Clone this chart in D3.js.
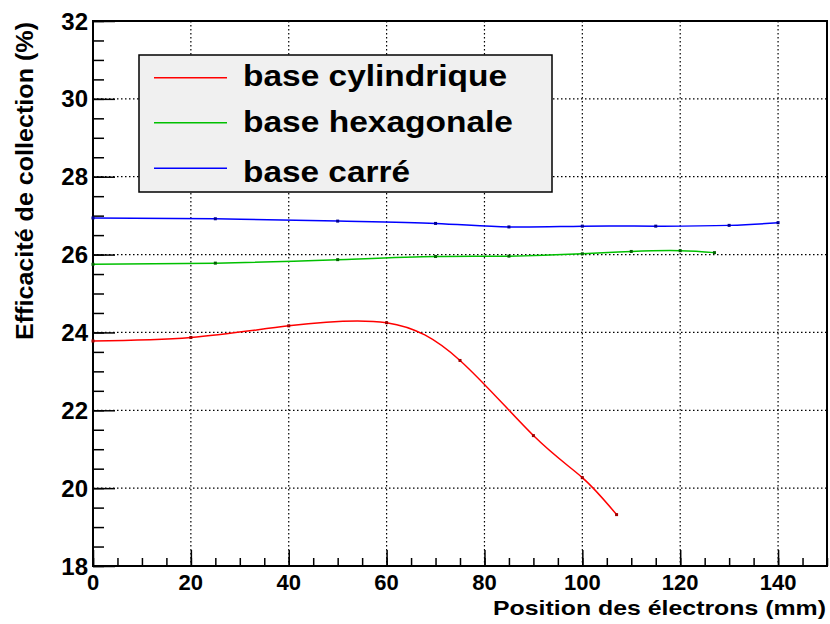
<!DOCTYPE html>
<html><head><meta charset="utf-8">
<script src="https://cdn.jsdelivr.net/npm/d3@7"></script>
<style>body{margin:0;background:#fff}svg{display:block}text{font-family:"Liberation Sans",Arial,sans-serif;font-weight:bold}</style>
</head><body>
<svg id="c" width="830" height="624"></svg>
<script>
// Data
const cylX = [0, 20, 40, 60, 75, 90, 100, 107];
const cylY = [23.78, 23.87, 24.17, 24.25, 23.28, 21.35, 20.27, 19.32];
const hexX = [0, 25, 50, 70, 85, 100, 110, 120, 127];
const hexY = [25.75, 25.78, 25.87, 25.95, 25.96, 26.02, 26.08, 26.10, 26.05];
const carX = [0, 25, 50, 70, 85, 100, 115, 130, 140];
const carY = [26.94, 26.92, 26.86, 26.80, 26.71, 26.73, 26.73, 26.75, 26.82];
const seriesNames = ["base cylindrique", "base hexagonale", "base carré"];
const xTicks = [0, 20, 40, 60, 80, 100, 120, 140];
const yTicks = [18, 20, 22, 24, 26, 28, 30, 32];
const xTitle = "Position des électrons (mm)";
const yTitle = "Efficacité de collection (%)";

const colors = ["#ff0000", "#00c000", "#0000ff"];
const markColors = ["#a00000", "#006000", "#000090"];

const svg = d3.select("#c");
const L = 93, R = 827, T = 21, B = 566;
const x = d3.scaleLinear().domain([0, 150]).range([L, R]);
const y = d3.scaleLinear().domain([18, 32]).range([B, T]);

// grid
const g = svg.append("g");
g.selectAll(".gx").data(xTicks.filter(d => d > 0)).enter().append("line")
  .attr("x1", d => x(d)).attr("x2", d => x(d)).attr("y1", T).attr("y2", B)
  .attr("stroke", "#000").attr("stroke-width", 1.2).attr("stroke-dasharray", "1.5,2.5");
g.selectAll(".gy").data(yTicks.filter(d => d > 18 && d < 32)).enter().append("line")
  .attr("y1", d => y(d)).attr("y2", d => y(d)).attr("x1", L).attr("x2", R)
  .attr("stroke", "#000").attr("stroke-width", 1.2).attr("stroke-dasharray", "1.5,2.5");

// axes
const xAxisMajor = d3.axisBottom(x).tickValues(xTicks).tickSize(-16).tickFormat("").tickSizeOuter(0);
const xAxisMinor = d3.axisBottom(x).tickValues(d3.range(0, 151, 5)).tickSize(-8).tickFormat("").tickSizeOuter(0);
const yAxisMajor = d3.axisLeft(y).tickValues(yTicks).tickSize(-22).tickFormat("").tickSizeOuter(0);
const yAxisMinor = d3.axisLeft(y).tickValues(d3.range(18, 32.01, 0.5)).tickSize(-11).tickFormat("").tickSizeOuter(0);
[xAxisMinor, xAxisMajor].forEach(a => {
  const ga = svg.append("g").attr("transform", `translate(0,${B})`).call(a);
  ga.select(".domain").remove();
  ga.selectAll("line").attr("stroke", "#000").attr("stroke-width", 1.5);
});
[yAxisMinor, yAxisMajor].forEach(a => {
  const ga = svg.append("g").attr("transform", `translate(${L},0)`).call(a);
  ga.select(".domain").remove();
  ga.selectAll("line").attr("stroke", "#000").attr("stroke-width", 1.5);
});

// tick labels
svg.selectAll(".xl").data(xTicks).enter().append("text")
  .attr("x", d => x(d)).attr("y", 590).attr("text-anchor", "middle")
  .attr("font-size", 22).text(d => d);
svg.selectAll(".yl").data(yTicks).enter().append("text")
  .attr("x", 88).attr("y", d => y(d) + 8.5).attr("text-anchor", "end")
  .attr("font-size", 24).text(d => d);

// frame
svg.append("rect").attr("x", L).attr("y", T).attr("width", R - L).attr("height", B - T)
  .attr("fill", "none").attr("stroke", "#000").attr("stroke-width", 2);

// titles
svg.append("text").attr("x", 826).attr("y", 615).attr("text-anchor", "end")
  .attr("font-size", 21).attr("textLength", 333).attr("lengthAdjust", "spacingAndGlyphs").text(xTitle);
svg.append("text").attr("transform", "translate(33,22) rotate(-90)").attr("text-anchor", "end")
  .attr("font-size", 23).attr("textLength", 318).attr("lengthAdjust", "spacingAndGlyphs").text(yTitle);

// series
const series = [[cylX, cylY], [hexX, hexY], [carX, carY]];
const line = d3.line().x(d => x(d[0])).y(d => y(d[1])).curve(d3.curveNatural);
series.forEach(([xs, ys], i) => {
  const pts = xs.map((v, j) => [v, ys[j]]);
  svg.append("path").datum(pts).attr("d", line).attr("fill", "none")
    .attr("stroke", colors[i]).attr("stroke-width", 1.5);
  svg.selectAll(".m" + i).data(pts).enter().append("rect")
    .attr("x", d => x(d[0]) - 1.5).attr("y", d => y(d[1]) - 1.5)
    .attr("width", 3).attr("height", 3).attr("fill", markColors[i]);
});

// legend
const lg = svg.append("g");
lg.append("rect").attr("x", 139).attr("y", 55).attr("width", 413).attr("height", 137)
  .attr("fill", "#f0f0f0").attr("stroke", "#000").attr("stroke-width", 1.5);
const legLineY = [77.7, 122.7, 168.3];
const legTextY = [86, 132, 182];
const legLen = [264, 270, 167];
seriesNames.forEach((n, i) => {
  lg.append("line").attr("x1", 154).attr("x2", 227).attr("y1", legLineY[i]).attr("y2", legLineY[i])
    .attr("stroke", colors[i]).attr("stroke-width", 1.5);
  lg.append("text").attr("x", 243).attr("y", legTextY[i]).attr("font-size", 30)
    .attr("textLength", legLen[i]).attr("lengthAdjust", "spacingAndGlyphs").text(n);
});
</script>
</body></html>
